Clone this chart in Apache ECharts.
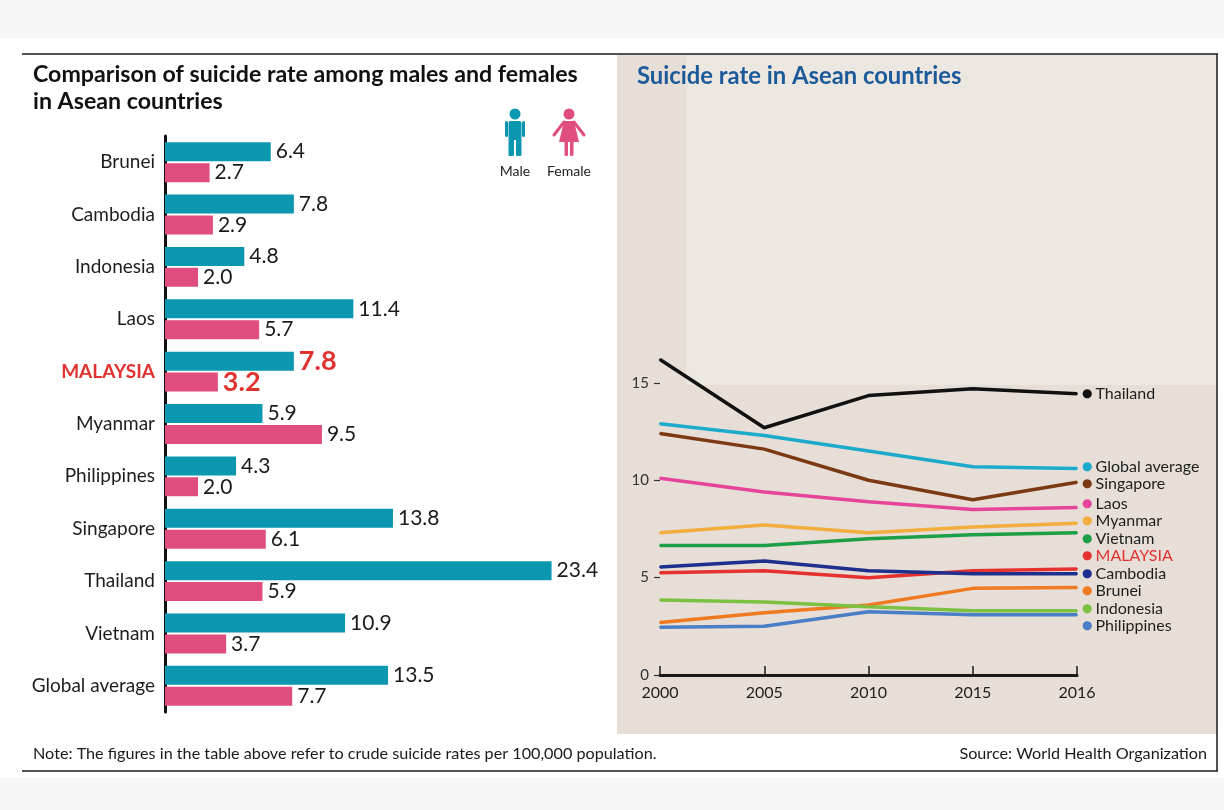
<!DOCTYPE html>
<html>
<head>
<meta charset="utf-8">
<script src="https://cdn.jsdelivr.net/npm/echarts@6/dist/echarts.min.js"></script>
<style>
  html, body { margin: 0; padding: 0; background: #f7f7f7; }
  #chart { width: 1224px; height: 810px; }
</style>
</head>
<body>
<div id="chart"></div>
<script>
// --- bar chart data (crude suicide rate per 100,000) ---
const countries = ['Brunei', 'Cambodia', 'Indonesia', 'Laos', 'MALAYSIA', 'Myanmar',
                   'Philippines', 'Singapore', 'Thailand', 'Vietnam', 'Global average'];
const maleRates   = [6.4, 7.8, 4.8, 11.4, 7.8, 5.9, 4.3, 13.8, 23.4, 10.9, 13.5];
const femaleRates = [2.7, 2.9, 2.0, 5.7, 3.2, 9.5, 2.0, 6.1, 5.9, 3.7, 7.7];

// --- line chart data ---
const years = ['2000', '2005', '2010', '2015', '2016'];
const yTicks = [0, 5, 10, 15];
const thailand    = [16.2, 12.7, 14.35, 14.7, 14.45];
const globalAvg   = [12.9, 12.3, 11.5, 10.7, 10.6];
const singapore   = [12.4, 11.6, 10.0, 9.0, 9.9];
const laos        = [10.1, 9.4, 8.9, 8.5, 8.6];
const myanmar     = [7.3, 7.7, 7.3, 7.6, 7.8];
const vietnam     = [6.65, 6.65, 7.0, 7.2, 7.3];
const malaysia    = [5.25, 5.35, 5.0, 5.35, 5.45];
const cambodia    = [5.55, 5.85, 5.35, 5.2, 5.2];
const brunei      = [2.7, 3.2, 3.6, 4.45, 4.5];
const indonesia   = [3.85, 3.75, 3.5, 3.3, 3.3];
const philippines = [2.45, 2.5, 3.25, 3.1, 3.1];

const FONT = 'Lato, "Open Sans", sans-serif';
const TEAL = '#0b97af';
const PINK = '#df4e7f';
const RED = '#e0332f';
const LABEL_GAP = 17.5; // min vertical spacing of the end labels

const lineDefs = [
  { name: 'Thailand',       data: thailand,    color: '#111111' },
  { name: 'Global average', data: globalAvg,   color: '#1eaacb' },
  { name: 'Singapore',      data: singapore,   color: '#7b3a14' },
  { name: 'Laos',           data: laos,        color: '#e5469a' },
  { name: 'Myanmar',        data: myanmar,     color: '#f3ad3c' },
  { name: 'Vietnam',        data: vietnam,     color: '#1d9f48' },
  { name: 'MALAYSIA',       data: malaysia,    color: '#e5322f' },
  { name: 'Cambodia',       data: cambodia,    color: '#1f2f8e' },
  { name: 'Brunei',         data: brunei,      color: '#ef7a22' },
  { name: 'Indonesia',      data: indonesia,   color: '#7dc143' },
  { name: 'Philippines',    data: philippines, color: '#4a7ec7' }
];

function barData(values, hiIndex) {
  return values.map((v, i) => i === hiIndex
    ? { value: v, label: { fontSize: 27, fontWeight: 'bold', color: RED } }
    : v);
}

const hi = countries.indexOf('MALAYSIA');

function buildLineSeries(offsets) {
  return lineDefs.map((d, k) => ({
    type: 'line',
    name: d.name,
    xAxisIndex: 1,
    yAxisIndex: 1,
    symbol: 'circle',
    symbolSize: 2,
    showSymbol: true,
    animation: false,
    lineStyle: { width: 3.5, color: d.color },
    itemStyle: { color: d.color },
    label: { show: false },
    data: d.data.map((v, i) => i === d.data.length - 1 ? {
      value: v,
      label: {
        show: true,
        position: 'right',
        distance: 4,
        offset: [0, offsets ? offsets[k] : 0],
        formatter: '{d|●} {t|' + d.name + '}',
        rich: {
          d: { color: d.color, fontSize: 12, fontFamily: 'DejaVu Sans' },
          t: { color: d.name === 'MALAYSIA' ? RED : '#1e1e1e', fontSize: 16,
               fontFamily: FONT, lineHeight: 18 }
        }
      }
    } : v)
  }));
}

// spread end labels apart: merge overlapping groups and centre each group on its points
function spreadLabels(ys, gap) {
  const order = ys.map((y, i) => i).sort((a, b) => ys[a] - ys[b]);
  let groups = order.map(i => ({ idx: [i], sum: ys[i] }));
  const place = g => { const c = g.sum / g.idx.length; return c - (g.idx.length - 1) * gap / 2; };
  let merged = true;
  while (merged) {
    merged = false;
    for (let j = 1; j < groups.length; j++) {
      const a = groups[j - 1], b = groups[j];
      const aEnd = place(a) + (a.idx.length - 1) * gap;
      if (place(b) - aEnd < gap) {
        groups.splice(j - 1, 2, { idx: a.idx.concat(b.idx), sum: a.sum + b.sum });
        merged = true;
        break;
      }
    }
  }
  const out = new Array(ys.length);
  groups.forEach(g => { const s = place(g); g.idx.forEach((i, n) => { out[i] = s + n * gap; }); });
  return out;
}

// simple pictograms for the legend
function maleIcon(cx, top, color) {
  return [
    { type: 'circle', shape: { cx: cx, cy: top + 5, r: 5.5 }, style: { fill: color } },
    { type: 'rect', shape: { x: cx - 6.5, y: top + 12, width: 13, height: 19, r: 2 }, style: { fill: color } },
    { type: 'rect', shape: { x: cx - 10, y: top + 12, width: 3, height: 16, r: 1.5 }, style: { fill: color } },
    { type: 'rect', shape: { x: cx + 7, y: top + 12, width: 3, height: 16, r: 1.5 }, style: { fill: color } },
    { type: 'rect', shape: { x: cx - 6.5, y: top + 29, width: 5.5, height: 18, r: 1.5 }, style: { fill: color } },
    { type: 'rect', shape: { x: cx + 1, y: top + 29, width: 5.5, height: 18, r: 1.5 }, style: { fill: color } }
  ];
}
function femaleIcon(cx, top, color) {
  return [
    { type: 'circle', shape: { cx: cx, cy: top + 5, r: 5.5 }, style: { fill: color } },
    { type: 'polygon', shape: { points: [[cx - 5, top + 12], [cx + 5, top + 12], [cx + 10, top + 33], [cx - 10, top + 33]] }, style: { fill: color } },
    { type: 'line', shape: { x1: cx - 5, y1: top + 13, x2: cx - 15, y2: top + 26 }, style: { stroke: color, lineWidth: 3, lineCap: 'round' } },
    { type: 'line', shape: { x1: cx + 5, y1: top + 13, x2: cx + 15, y2: top + 26 }, style: { stroke: color, lineWidth: 3, lineCap: 'round' } },
    { type: 'rect', shape: { x: cx - 4.5, y: top + 32, width: 3.5, height: 15, r: 1.5 }, style: { fill: color } },
    { type: 'rect', shape: { x: cx + 1, y: top + 32, width: 3.5, height: 15, r: 1.5 }, style: { fill: color } }
  ];
}

const chart = echarts.init(document.getElementById('chart'), null, { renderer: 'canvas' });

const valueLabel = {
  show: true, position: 'right', distance: 5, color: '#1a1a1a', fontSize: 21, fontFamily: FONT,
  formatter: p => p.value.toFixed(1)
};

chart.setOption({
  animation: false,
  textStyle: { fontFamily: FONT },
  graphic: [
    // page + panels
    { type: 'rect', z: -10, shape: { x: 0, y: 38, width: 1224, height: 740 }, style: { fill: '#ffffff' } },
    { type: 'rect', z: -9, shape: { x: 617, y: 55, width: 600, height: 679 }, style: { fill: '#e6ded7' } },
    { type: 'rect', z: -8, shape: { x: 686, y: 55, width: 531, height: 330 }, style: { fill: '#ece7e1' } },
    // frame
    { type: 'line', z: -5, shape: { x1: 22, y1: 54, x2: 1218, y2: 54 }, style: { stroke: '#1a1a1a', lineWidth: 1.5 } },
    { type: 'line', z: -5, shape: { x1: 1217, y1: 54, x2: 1217, y2: 771 }, style: { stroke: '#1a1a1a', lineWidth: 1.5 } },
    { type: 'line', z: -5, shape: { x1: 22, y1: 771, x2: 1218, y2: 771 }, style: { stroke: '#1a1a1a', lineWidth: 1.5 } },
    // titles
    { type: 'text', left: 33, top: 61, style: {
        text: 'Comparison of suicide rate among males and females\nin Asean countries',
        fill: '#111', font: 'bold 23.2px ' + FONT, lineHeight: 27 } },
    { type: 'text', left: 637, top: 64, style: {
        text: 'Suicide rate in Asean countries',
        fill: '#1d5a9a', font: 'bold 23.8px ' + FONT } },
    // pictogram legend
    ...maleIcon(515, 109, TEAL),
    ...femaleIcon(569, 109, PINK),
    { type: 'text', x: 515, y: 171, style: { text: 'Male', fill: '#222', font: '14px ' + FONT, align: 'center', verticalAlign: 'middle' } },
    { type: 'text', x: 569, y: 171, style: { text: 'Female', fill: '#222', font: '14px ' + FONT, align: 'center', verticalAlign: 'middle' } },
    // footer
    { type: 'text', x: 33, y: 754, style: {
        text: 'Note: The figures in the table above refer to crude suicide rates per 100,000 population.',
        fill: '#1a1a1a', font: '16.2px ' + FONT, verticalAlign: 'middle' } },
    { type: 'text', x: 1207, y: 754, style: {
        text: 'Source: World Health Organization',
        fill: '#1a1a1a', font: '16.2px ' + FONT, align: 'right', verticalAlign: 'middle' } }
  ],
  grid: [
    { left: 165, top: 136, width: 413, height: 576 },
    { left: 660, top: 344, width: 417, height: 331 }
  ],
  xAxis: [
    { gridIndex: 0, type: 'value', min: 0, max: 25, show: false },
    {
      gridIndex: 1, type: 'category', data: years, boundaryGap: false,
      axisLine: { lineStyle: { color: '#1a1a1a', width: 3 } },
      axisTick: { inside: true, length: 9, lineStyle: { color: '#1a1a1a', width: 1.5 } },
      axisLabel: { color: '#222', fontSize: 16, margin: 10, fontFamily: FONT },
      splitLine: { show: false }
    }
  ],
  yAxis: [
    {
      gridIndex: 0, type: 'category', data: countries, inverse: true,
      axisLine: { lineStyle: { color: '#111', width: 3 } },
      axisTick: { inside: true, length: 7, lineStyle: { color: '#111', width: 1.5 } },
      axisLabel: {
        color: '#1e1e1e', fontSize: 19, margin: 10, fontFamily: FONT,
        formatter: v => v === 'MALAYSIA' ? '{hl|' + v + '}' : v,
        rich: { hl: { color: RED, fontSize: 19, fontWeight: 'bold', fontFamily: FONT } }
      }
    },
    {
      gridIndex: 1, type: 'value', min: 0, max: 17, interval: 5,
      axisLine: { show: false },
      axisTick: { show: true, length: 6, customValues: yTicks, lineStyle: { color: '#333', width: 1.2 } },
      axisLabel: { customValues: yTicks, color: '#333', fontSize: 15, margin: 11, fontFamily: FONT },
      splitLine: { show: false }
    }
  ],
  series: [
    {
      type: 'bar', name: 'Male', xAxisIndex: 0, yAxisIndex: 0,
      barWidth: 19, barGap: '10%',
      itemStyle: { color: TEAL },
      label: valueLabel,
      data: barData(maleRates, hi)
    },
    {
      type: 'bar', name: 'Female', xAxisIndex: 0, yAxisIndex: 0,
      barWidth: 19, barGap: '10%',
      itemStyle: { color: PINK },
      label: valueLabel,
      data: barData(femaleRates, hi)
    },
    ...buildLineSeries(null)
  ]
});

// place end labels from the pixel positions of the last data points
const lastIdx = years.length - 1;
const endYs = lineDefs.map(d => chart.convertToPixel({ gridIndex: 1 }, [lastIdx, d.data[lastIdx]])[1]);
const targetYs = spreadLabels(endYs, LABEL_GAP);
const offsets = endYs.map((y, i) => targetYs[i] - y);
chart.setOption({ series: [{}, {}, ...buildLineSeries(offsets)] });
</script>
</body>
</html>
